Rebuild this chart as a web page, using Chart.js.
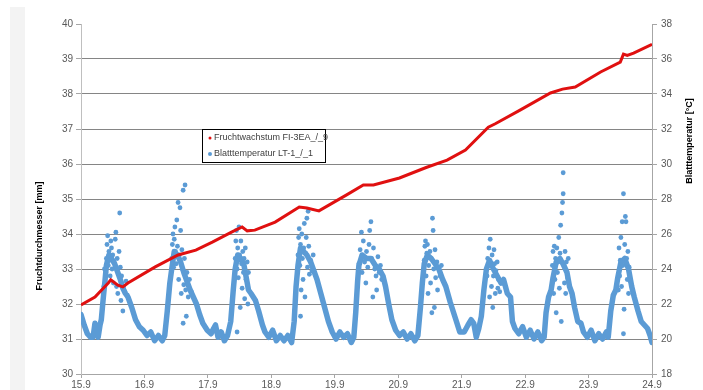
<!DOCTYPE html>
<html>
<head>
<meta charset="utf-8">
<script src="https://cdn.jsdelivr.net/npm/chart.js@4.4.0/dist/chart.umd.min.js"></script>
<style>
  body { margin: 0; background: #fff; }
  #wrap { position: relative; width: 703px; height: 390px; }
  #strip { position: absolute; left: 10px; top: 7px; width: 15px; height: 383px; background: #f3f3f3; }
  #chart { position: absolute; left: 0; top: 0; }
</style>
</head>
<body>
<div id="wrap">
  <div id="strip"></div>
  <canvas id="chart" width="703" height="390"></canvas>
</div>
<script>
// x axis: days from 15.9, tick labels are the dates
const xTickLabels = ['15.9', '16.9', '17.9', '18.9', '19.9', '20.9', '21.9', '22.9', '23.9', '24.9'];

// Fruchtwachstum (left axis, mm)
const fruitDays = [0, 0.22, 0.43, 0.47, 0.58, 0.66, 0.74, 1.17, 1.53, 1.81, 2.07, 2.38, 2.54, 2.62, 2.74, 3.06, 3.44, 3.56, 3.75, 4.18, 4.45, 4.61, 5.02, 5.44, 5.77, 6.06, 6.42, 6.53, 6.92, 7.40, 7.59, 7.79, 8.19, 8.50, 8.55, 8.61, 8.71, 9.0];
const fruitMm = [31.97, 32.2, 32.6, 32.69, 32.54, 32.49, 32.6, 33.06, 33.4, 33.54, 33.77, 34.06, 34.2, 34.09, 34.11, 34.34, 34.77, 34.74, 34.66, 35.11, 35.4, 35.4, 35.6, 35.9, 36.11, 36.4, 37.05, 37.15, 37.54, 38.03, 38.14, 38.2, 38.63, 38.91, 39.14, 39.1, 39.17, 39.42];

// Blatttemperatur (right axis, °C): dense run of readings (nights, flanks, peak core)
const leafBand = [
  [0.00,21.4],[0.05,20.8],[0.10,20.3],[0.15,20.1],[0.19,20.1],[0.22,20.9],[0.25,20.5],[0.27,20.1],[0.30,20.8],[0.32,21.1],[0.35,22.3],[0.38,23.4],[0.40,24.2],
  [0.44,24.8],[0.48,24.6],[0.53,24.3],[0.58,23.8],[0.62,23.4],
  [0.66,22.9],[0.70,22.6],[0.74,22.4],[0.80,21.8],[0.86,21.1],[0.92,20.7],[0.98,20.5],[1.04,20.2],[1.10,20.4],[1.16,19.9],[1.22,20.2],[1.28,19.9],[1.32,20.2],[1.36,21.6],[1.40,23.2],[1.43,24.0],
  [1.47,25.0],[1.52,24.8],[1.57,24.4],[1.62,23.8],[1.67,23.3],
  [1.72,22.8],[1.77,22.4],[1.82,22.0],[1.87,21.4],[1.92,20.9],[1.99,20.5],[2.05,20.3],[2.09,20.6],[2.12,20.8],[2.16,20.1],[2.21,20.4],[2.26,19.9],[2.31,20.2],[2.36,21.0],[2.40,22.8],[2.43,24.0],
  [2.47,24.8],[2.52,24.6],[2.57,24.2],[2.61,23.4],
  [2.64,22.8],[2.68,22.6],[2.75,22.2],[2.80,21.6],[2.86,20.8],[2.90,20.4],[2.96,20.1],[3.02,20.5],[3.08,19.9],[3.14,20.2],[3.20,19.9],[3.26,20.2],[3.32,19.8],[3.36,21.0],[3.39,23.0],[3.42,24.2],
  [3.46,25.2],[3.51,25.0],[3.56,24.8],[3.62,24.4],
  [3.68,23.8],[3.72,23.4],[3.78,22.6],[3.84,21.8],[3.90,21.0],[3.96,20.4],[4.02,20.0],[4.08,20.4],[4.14,20.1],[4.20,20.3],[4.26,19.8],[4.30,20.1],[4.33,21.5],[4.36,23.3],[4.38,24.2],
  [4.43,24.8],[4.50,24.6],[4.57,24.6],[4.64,24.2],[4.70,24.0],
  [4.76,23.6],[4.80,23.0],[4.85,22.0],[4.90,21.1],[4.96,20.5],[5.02,20.2],[5.08,20.4],[5.14,20.0],[5.20,20.3],[5.26,19.9],[5.31,20.2],[5.35,21.8],[5.38,23.2],[5.41,24.3],
  [5.46,24.8],[5.52,24.6],[5.58,24.3],[5.64,24.0],
  [5.70,23.4],[5.75,23.0],[5.82,22.1],[5.90,21.2],[5.97,20.4],[6.04,20.4],[6.10,20.8],[6.15,21.1],[6.19,20.9],[6.23,20.1],[6.27,20.6],[6.31,21.3],[6.35,22.8],[6.39,24.0],
  [6.44,24.5],[6.50,24.0],[6.56,23.6],
  [6.62,23.2],[6.66,23.4],[6.72,22.6],[6.77,22.4],[6.80,21.0],[6.84,20.6],[6.90,20.3],[6.96,20.7],[7.02,20.1],[7.08,20.5],[7.14,20.0],[7.20,20.4],[7.26,19.9],[7.30,20.1],[7.33,21.5],[7.37,22.4],[7.41,22.8],[7.44,23.5],
  [7.49,24.4],[7.55,24.6],[7.61,24.2],[7.66,23.8],
  [7.70,23.0],[7.74,22.6],[7.78,21.8],[7.83,21.0],[7.88,20.9],[7.92,20.4],[7.98,20.1],[8.04,20.5],[8.10,19.9],[8.16,20.3],[8.22,20.0],[8.28,20.4],[8.31,20.1],[8.35,21.6],[8.39,22.5],[8.43,22.8],[8.46,23.5],
  [8.51,24.4],[8.57,24.6],[8.63,24.0],
  [8.68,23.0],[8.72,22.4],[8.78,21.6],[8.83,21.0],[8.88,20.8],[8.93,20.6],[8.97,20.2],[9.00,19.8]
];

// Blatttemperatur: scattered readings around the midday peaks
const leafScatter = [
  [0.36,23.0],[0.37,24.0],[0.39,23.8],[0.40,24.6],[0.41,25.4],[0.42,25.9],[0.43,24.2],[0.44,25.0],[0.45,24.5],[0.46,23.6],[0.47,25.6],[0.48,25.2],[0.49,24.0],[0.50,24.8],[0.51,23.2],[0.52,24.4],[0.54,25.7],[0.55,26.1],[0.56,23.0],[0.57,24.6],[0.58,22.6],[0.60,25.0],[0.61,27.2],[0.62,24.1],[0.63,22.2],[0.64,23.6],[0.66,21.6],[0.67,23.0],[0.69,22.7],[0.71,23.3],[0.73,22.5],
  [1.43,24.6],[1.44,25.4],[1.45,26.0],[1.46,24.1],[1.47,25.7],[1.48,26.4],[1.49,25.0],[1.50,24.3],[1.51,26.8],[1.52,25.3],[1.53,27.8],[1.54,23.4],[1.55,24.8],[1.56,27.5],[1.57,26.2],[1.58,22.6],[1.59,25.1],[1.60,24.0],[1.61,28.5],[1.61,20.9],[1.62,23.1],[1.63,24.6],[1.64,28.8],[1.65,22.8],[1.66,21.3],[1.67,23.8],[1.69,22.4],[1.71,23.4],[1.74,22.7],
  [2.43,24.6],[2.44,25.6],[2.45,26.2],[2.46,20.4],[2.46,24.0],[2.47,25.2],[2.48,23.5],[2.49,26.4],[2.50,24.8],[2.51,21.8],[2.52,25.6],[2.53,24.3],[2.54,22.9],[2.55,25.0],[2.56,23.8],[2.57,24.6],[2.58,22.3],[2.59,25.2],[2.60,23.4],[2.62,24.4],[2.63,22.0],[2.64,23.8],
  [3.42,24.8],[3.43,25.8],[3.44,26.3],[3.45,24.2],[3.46,21.3],[3.46,25.4],[3.47,22.8],[3.48,26.0],[3.49,24.6],[3.50,23.4],[3.51,25.2],[3.52,26.6],[3.53,22.4],[3.54,24.9],[3.55,25.8],[3.56,26.9],[3.57,24.1],[3.58,27.3],[3.59,25.3],[3.60,23.7],[3.62,24.5],[3.64,23.9],[3.66,24.8],
  [4.38,24.3],[4.40,25.1],[4.42,26.1],[4.43,23.8],[4.45,25.6],[4.47,24.4],[4.49,23.2],[4.50,25.0],[4.52,24.1],[4.54,25.4],[4.55,26.2],[4.57,26.7],[4.58,24.6],[4.60,22.4],[4.61,25.2],[4.63,24.0],[4.65,23.6],[4.66,22.8],[4.68,24.7],[4.70,23.8],[4.72,24.2],[4.74,23.4],
  [5.41,24.5],[5.42,25.3],[5.43,25.6],[5.44,23.6],[5.45,24.9],[5.46,25.4],[5.47,22.6],[5.48,24.2],[5.50,25.0],[5.51,23.2],[5.52,24.6],[5.53,21.5],[5.54,26.9],[5.55,26.2],[5.56,24.0],[5.57,21.8],[5.58,25.1],[5.59,23.5],[5.61,24.4],[5.62,22.8],[5.64,24.0],[5.66,23.6],[5.68,24.2],
  [6.40,23.6],[6.41,24.6],[6.43,25.2],[6.44,22.4],[6.45,25.7],[6.46,24.2],[6.47,23.0],[6.48,24.8],[6.49,21.8],[6.50,23.6],[6.51,25.1],[6.52,24.3],[6.53,22.6],[6.54,23.9],[6.56,24.4],[6.57,22.9],[6.58,23.4],[6.60,22.7],
  [7.43,24.2],[7.44,25.0],[7.45,22.6],[7.46,25.3],[7.47,23.4],[7.48,24.6],[7.49,21.5],[7.50,25.2],[7.51,23.8],[7.52,24.4],[7.53,25.8],[7.54,22.9],[7.55,24.9],[7.56,26.5],[7.57,21.0],[7.58,27.2],[7.59,27.8],[7.60,28.3],[7.60,29.5],[7.61,24.2],[7.62,23.2],[7.63,25.0],[7.64,22.6],[7.65,24.4],[7.67,23.5],[7.68,24.6],
  [8.47,22.8],[8.48,25.2],[8.49,23.6],[8.50,24.5],[8.51,25.8],[8.52,23.0],[8.53,26.7],[8.54,24.2],[8.55,28.3],[8.55,20.3],[8.56,21.7],[8.57,25.4],[8.58,27.0],[8.59,26.7],[8.60,24.6],[8.61,23.4],[8.62,25.0],[8.63,22.6],[8.64,24.1],[8.66,23.3]
];

const seriesNames = ['Fruchtwachstum FI-3EA_/_9', 'Blatttemperatur LT-1_/_1'];
const leftTitle = 'Fruchtdurchmesser [mm]';
const rightTitle = 'Blatttemperatur [°C]';

const RED = '#e01010';
const BLUE = '#5b9bd5';
const FONT = "'Liberation Sans', Arial, sans-serif";

// draws the boxed legend inside the plot and the two axis titles
const decorations = {
  id: 'decorations',
  afterDraw(chart) {
    const ctx = chart.ctx;
    const a = chart.chartArea;
    ctx.save();
    // legend box
    const bx = a.left + 121, by = a.top + 105, bw = 123, bh = 33;
    ctx.fillStyle = '#fff';
    ctx.fillRect(bx, by, bw, bh);
    ctx.strokeStyle = '#000';
    ctx.lineWidth = 1;
    ctx.strokeRect(bx + 0.5, by + 0.5, bw, bh);
    ctx.font = '9px ' + FONT;
    ctx.textBaseline = 'middle';
    [RED, BLUE].forEach((c, i) => {
      const y = by + 9 + i * 16;
      ctx.fillStyle = c;
      ctx.beginPath();
      ctx.arc(bx + 8, y, i === 0 ? 1.5 : 2, 0, Math.PI * 2);
      ctx.fill();
      ctx.fillStyle = '#404040';
      ctx.fillText(seriesNames[i], bx + 12, y);
    });
    // axis titles, both reading bottom to top
    ctx.font = 'bold 9px ' + FONT;
    ctx.fillStyle = '#000';
    ctx.textAlign = 'center';
    [[40, 236, leftTitle], [690, 141, rightTitle]].forEach(([x, y, t]) => {
      ctx.save();
      ctx.translate(x, y);
      ctx.rotate(-Math.PI / 2);
      ctx.fillText(t, 0, 0);
      ctx.restore();
    });
    ctx.restore();
  }
};

const tickFont = { family: FONT, size: 10 };

new Chart(document.getElementById('chart'), {
  type: 'scatter',
  data: {
    datasets: [
      {
        label: seriesNames[0],
        data: fruitDays.map((d, i) => ({ x: d, y: fruitMm[i] })),
        yAxisID: 'y',
        showLine: true,
        borderColor: RED,
        borderWidth: 3,
        pointRadius: 0,
        tension: 0
      },
      {
        label: seriesNames[1],
        data: leafScatter.map(p => ({ x: p[0], y: p[1] })),
        yAxisID: 'y2',
        backgroundColor: BLUE,
        borderWidth: 0,
        pointRadius: 2.4
      },
      {
        label: 'band',
        data: leafBand.map(p => ({ x: p[0], y: p[1] })),
        yAxisID: 'y2',
        showLine: true,
        borderColor: BLUE,
        borderWidth: 5.5,
        borderJoinStyle: 'round',
        borderCapStyle: 'round',
        pointRadius: 0
      }
    ]
  },
  options: {
    responsive: false,
    animation: false,
    layout: { padding: { left: 28, top: 24, right: 0, bottom: 0 } },
    plugins: {
      legend: { display: false },
      tooltip: { enabled: false }
    },
    scales: {
      x: {
        type: 'linear',
        min: 0,
        max: 9,
        ticks: {
          stepSize: 1,
          maxRotation: 0,
          autoSkip: false,
          padding: 1,
          color: '#595959',
          font: tickFont,
          callback: v => xTickLabels[v]
        },
        grid: { drawOnChartArea: false, tickLength: 4, color: '#a6a6a6' },
        border: { color: '#a6a6a6' },
        afterFit: s => { s.height = 16; }
      },
      y: {
        position: 'left',
        min: 30,
        max: 40,
        ticks: { stepSize: 1, padding: 3, color: '#595959', font: tickFont },
        grid: {
          tickLength: 5,
          color: c => (c.tick.value === 40 || c.tick.value === 30) ? 'rgba(0,0,0,0)' : '#858585',
          tickColor: '#a6a6a6'
        },
        border: { color: '#bfbfbf' },
        afterFit: s => { s.width = 53; }
      },
      y2: {
        position: 'right',
        min: 18,
        max: 38,
        ticks: { stepSize: 2, padding: 4, color: '#595959', font: tickFont },
        grid: { drawOnChartArea: false, tickLength: 5, color: '#a6a6a6' },
        border: { color: '#a6a6a6' },
        afterFit: s => { s.width = 51; }
      }
    }
  },
  plugins: [decorations]
});
</script>
</body>
</html>
